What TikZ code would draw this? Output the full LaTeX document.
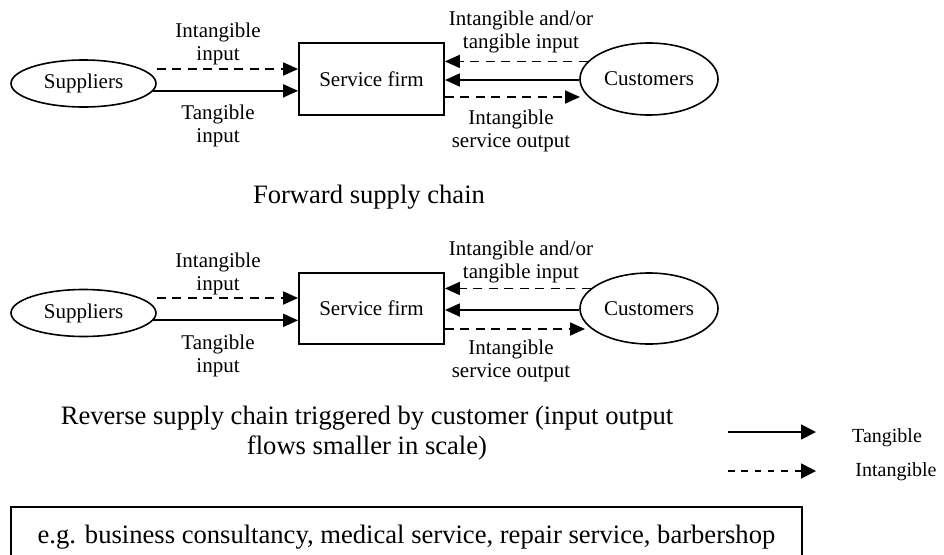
\documentclass[tikz,border=0pt]{standalone}
\usepackage{fontspec}
\setmainfont{Liberation Serif}
\usetikzlibrary{shapes.geometric,arrows.meta}
\tikzset{
  lblfont/.style={font=\fontsize{21}{23}\selectfont},
  lbl/.style={lblfont, align=center, inner sep=0pt},
  capfont/.style={font=\fontsize{26.6}{30}\selectfont},
  legfont/.style={font=\fontsize{20}{23}\selectfont, inner sep=0pt, anchor=base},
  ell/.style={draw, ellipse, line width=1.6pt, inner sep=0pt, lblfont},
  firmbox/.style={draw, rectangle, line width=1.8pt, inner sep=0pt, minimum width=145pt, lblfont},
  tang/.style={line width=1.8pt, -{Triangle[length=15pt,width=13pt]}},
  intang/.style={tang, dash pattern=on 9pt off 6.5pt},
  legtang/.style={line width=1.6pt, -{Triangle[length=15pt,width=15pt]}},
  legintang/.style={legtang, dash pattern=on 6.5pt off 6.8pt},
}
\begin{document}
\begin{tikzpicture}[x=1pt,y=-1pt]
\useasboundingbox (0,0) rectangle (944,554);
% ---------- forward supply chain ----------
\node[ell, minimum width=145pt, minimum height=47pt] (sup1) at (83.5,83.5) {Suppliers};
\node[firmbox, minimum height=72pt] (firm1) at (371.5,79) {Service firm};
\node[ell, minimum width=138pt, minimum height=72pt] (cus1) at (649,79) {Customers};
\coordinate (out1) at (580,97);

\draw[intang] (sup1.east |- 0,69) -- (firm1.west |- 0,69);
\draw[tang] (sup1.-6) -- (firm1.west |- sup1.-6);
\draw[intang] (cus1.164) -- (firm1.east |- cus1.164);
\draw[tang] (cus1.west |- 0,80) -- (firm1.east |- 0,80);
\draw[intang] (firm1.east |- out1) -- (out1);

\node[lbl] (l1a) at (218,44) {Intangible\\input};
\node[lbl] (l1b) at (218,126) {Tangible\\input};
\node[lbl] (l1c) at (521,32) {Intangible and/or\\tangible input};
\node[lbl] (l1d) at (511,131) {Intangible\\service output};

\node[capfont, inner sep=0pt, anchor=base] (cap1) at (369,203) {Forward supply chain};

% ---------- reverse supply chain ----------
\node[ell, minimum width=145pt, minimum height=47pt] (sup2) at (83.5,313) {Suppliers};
\node[firmbox, minimum height=71pt] (firm2) at (371.5,308.5) {Service firm};
\node[ell, minimum width=138pt, minimum height=71pt] (cus2) at (649,308.5) {Customers};
\coordinate (out2) at (585,329);

\draw[intang] (sup2.east |- 0,298) -- (firm2.west |- 0,298);
\draw[tang] (sup2.-6) -- (firm2.west |- sup2.-6);
\draw[intang] (cus2.161) -- (firm2.east |- cus2.161);
\draw[tang] (cus2.west |- 0,310) -- (firm2.east |- 0,310);
\draw[intang] (firm2.east |- out2) -- (out2);

\node[lbl] (l2a) at (218,274) {Intangible\\input};
\node[lbl] (l2b) at (218,356) {Tangible\\input};
\node[lbl] (l2c) at (521,262) {Intangible and/or\\tangible input};
\node[lbl] (l2d) at (511,361) {Intangible\\service output};

\node[capfont, align=center, inner sep=0pt] (cap2) at (367,433) {Reverse supply chain triggered by customer (input output\\flows smaller in scale)};

% ---------- legend ----------
\coordinate (lt1) at (728,432);
\coordinate (lt2) at (816,432);
\coordinate (li1) at (728,471);
\coordinate (li2) at (816,471);
\draw[legtang] (lt1) -- (lt2);
\draw[legintang] (li1) -- (li2);
\node[legfont] (legt) at (887,442) {Tangible};
\node[legfont] (legi) at (896,476) {Intangible};

% ---------- example box ----------
\node[draw, line width=1.8pt, rectangle, inner sep=0pt, minimum width=791pt, minimum height=60pt, capfont] (ex) at (406.5,537) {e.g. business consultancy, medical service, repair service, barbershop};
\end{tikzpicture}
\end{document}
